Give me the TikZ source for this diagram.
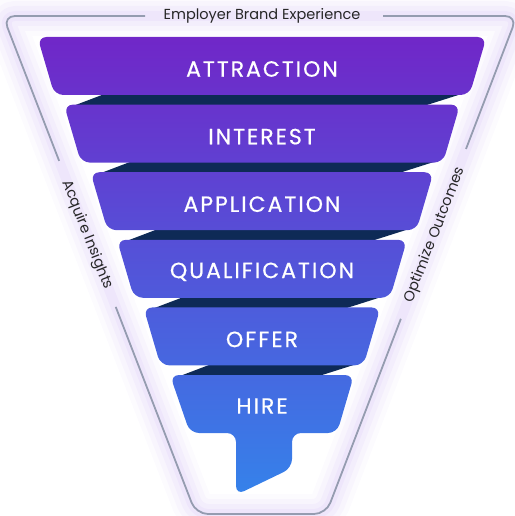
\documentclass[tikz,border=0pt]{standalone}
\usepackage{fontspec}
\setmainfont{Poppins}
\newfontfamily\bandfont[LetterSpace=9,FakeBold=0.6]{Poppins}
\usetikzlibrary{calc}
\definecolor{framegray}{HTML}{959CB0}
\definecolor{glowlav}{HTML}{C4A8F2}
\definecolor{fTop}{HTML}{7027C8}
\definecolor{fBot}{HTML}{3582EA}
\definecolor{foldnavy}{HTML}{0E2A56}
\tikzset{
  frame/.style={framegray, line width=1.8pt, rounded corners=12pt},
  sidetext/.style={font=\fontsize{14.5}{16}\selectfont, text=black!85},
  bandlabel/.style={text=white, font=\bandfont\fontsize{22}{26}\selectfont},
}

\begin{document}
\begin{tikzpicture}[x=1pt,y=-1pt]
\useasboundingbox (0,0) rectangle (514,516);
\coordinate (TL) at (3,16);
\coordinate (BL) at (196,514);
\coordinate (BR) at (326,514);
\coordinate (TR) at (517,16);

% soft glow along the frame
\foreach \w/\o in {40/0.05,30/0.07,20/0.09,10/0.11}{
	\draw[glowlav, line width=\w pt, opacity=\o, rounded corners=12pt, line join=round] (TL) -- (BL) -- (BR) -- (TR) -- cycle;
}

% frame with gaps for the texts
\draw[frame] (145,16) -- (TL) -- ($(TL)!0.291!(BL)$);
\draw[frame] ($(TL)!0.584!(BL)$) -- (BL) -- (BR) -- ($(TR)!0.608!(BR)$);
\draw[frame] ($(TR)!0.267!(BR)$) -- (TR) -- (383,16);

\node[sidetext] (brand) at (262,16) {Employer Brand Experience};
\node[sidetext, rotate=-68.5] (acquire) at (87,235) {Acquire Insights};
\node[sidetext, rotate=68.5] (optimize) at (435,235) {Optimize Outcomes};

% dark folds between the bands
\foreach \i in {0,...,4}{
	\pgfmathsetmacro{\yt}{37+67.6*\i}
	\pgfmathsetmacro{\yb}{\yt+58}
	\pgfmathsetmacro{\wb}{224.5-26.5*\i-17}
	\pgfmathsetmacro{\yn}{\yt+67.6}
	\pgfmathsetmacro{\wn}{224.5-26.5*(\i+1)}
	\fill[foldnavy] (262-\wn+10,\yn+1) -- (262-\wb+50,\yb-1) -- (262+\wb-8,\yb-1) -- (262+\wn-35,\yn+1) -- cycle;
}

% bands
\foreach \i/\name in {0/ATTRACTION,1/INTEREST,2/APPLICATION,3/QUALIFICATION,4/OFFER}{
	\pgfmathsetmacro{\yt}{37+67.6*\i}
	\pgfmathsetmacro{\yb}{\yt+58}
	\pgfmathsetmacro{\wt}{224.5-26.5*\i}
	\pgfmathsetmacro{\wb}{\wt-17}
	\pgfmathtruncatemacro{\pt}{(\yt-37)/4.58}
	\pgfmathtruncatemacro{\pb}{(\yb-37)/4.58}
	\shade[top color=fBot!\pt!fTop, bottom color=fBot!\pb!fTop, rounded corners=9pt]
		(262-\wt,\yt) -- (262+\wt,\yt) -- (262+\wb,\yb) -- (262-\wb,\yb) -- cycle;
	\node[bandlabel] (band\i) at (262,\yt+32) {\name};
}

% last band with its stem
\shade[top color=fBot!73!fTop, bottom color=fBot, rounded corners=9pt]
	(170,375) -- (354,375) -- (337,433) -- (292,433) -- (292,468) -- (236,495) -- (236,433) -- (190,433) -- cycle;
\node[bandlabel] (band5) at (262,406) {HIRE};
\end{tikzpicture}
\end{document}
